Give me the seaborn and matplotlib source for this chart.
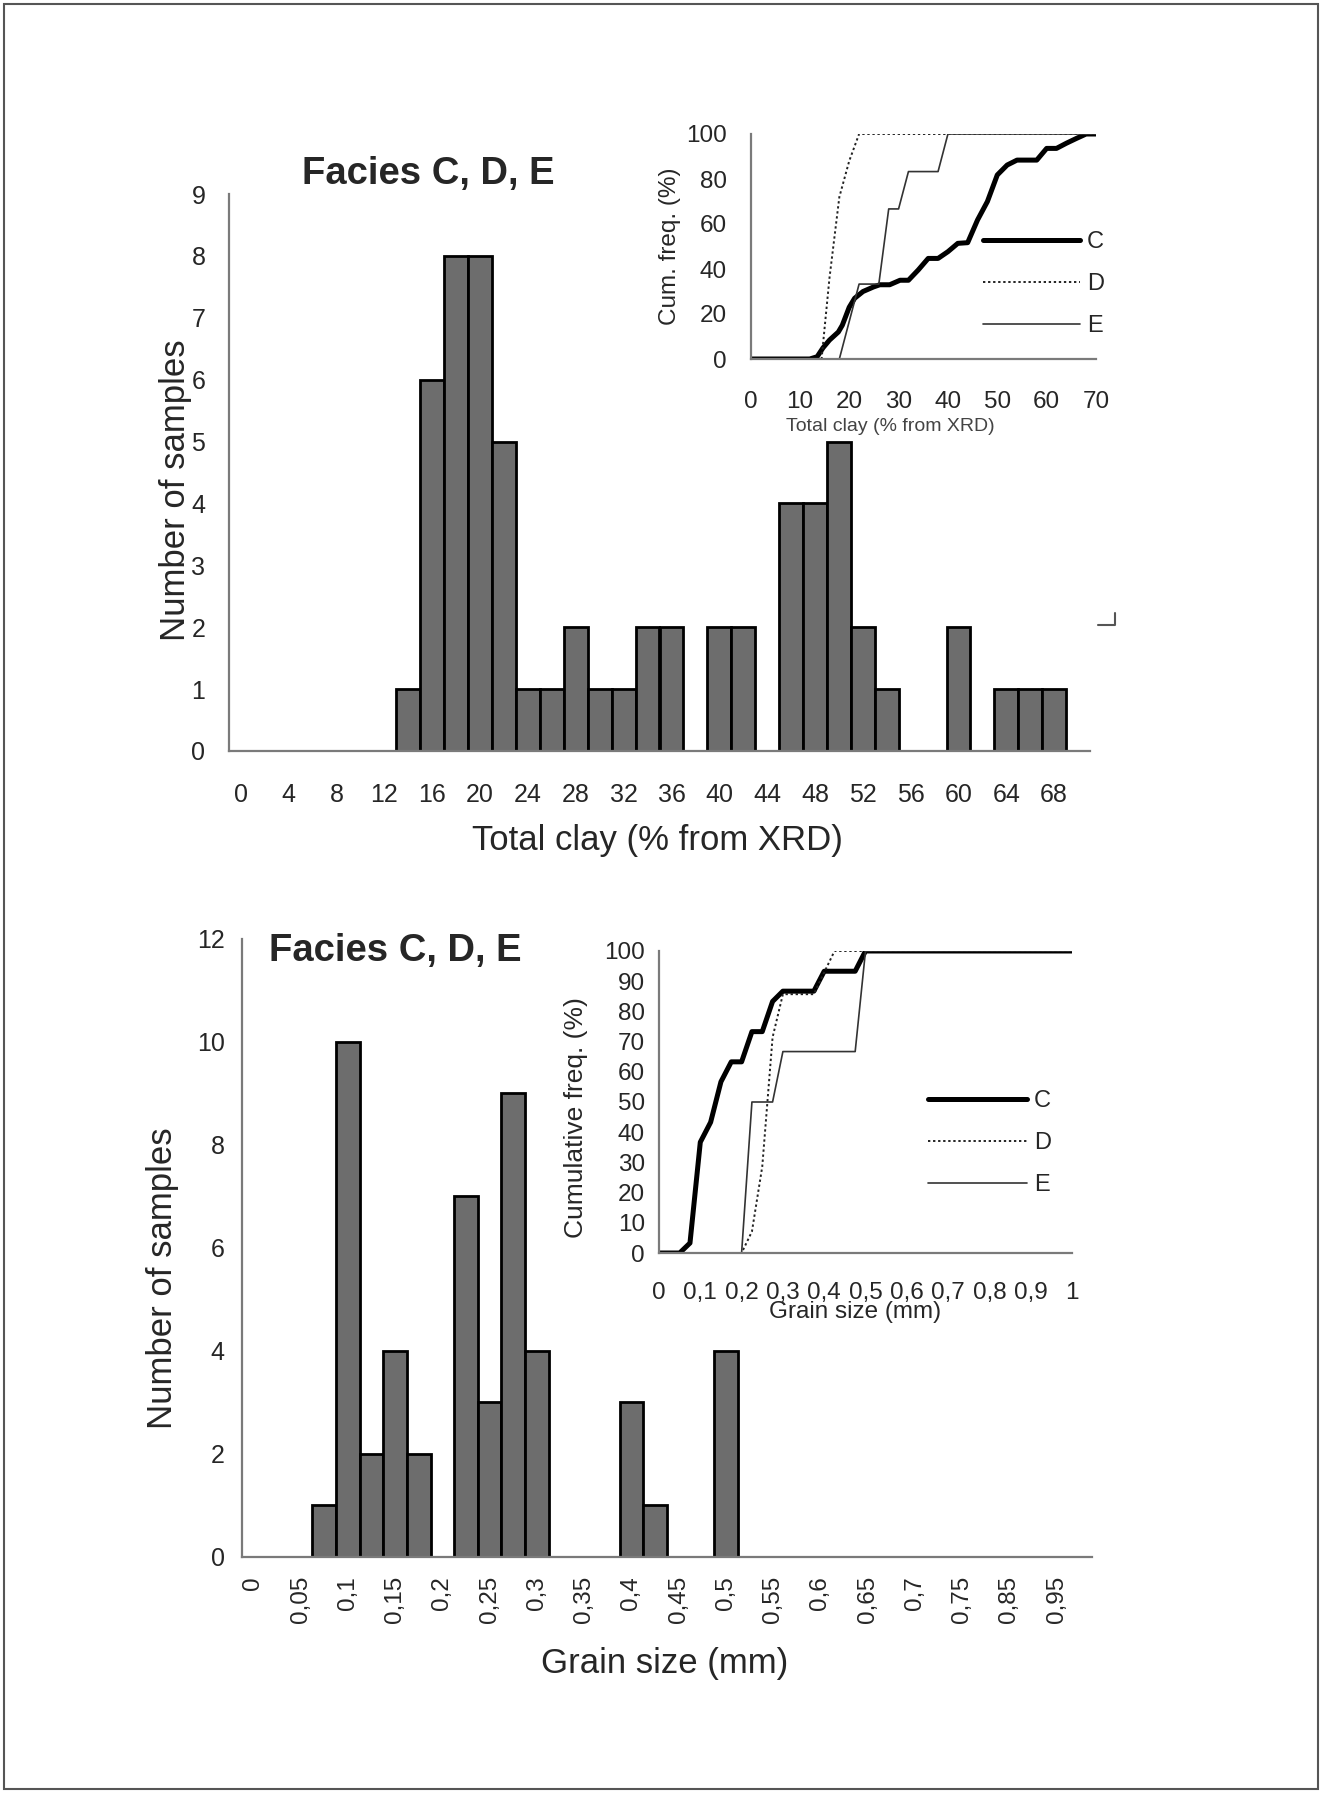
import numpy as np
import pandas as pd
import seaborn as sns
import matplotlib.pyplot as plt
from matplotlib.patches import Rectangle
from matplotlib.lines import Line2D

sns.set_style("white")
plt.rcParams['font.family'] = ['Liberation Sans', 'DejaVu Sans']

# histogram of total clay, bins of 2 %
clay_bins = [0, 2, 4, 6, 8, 10, 12, 14, 16, 18, 20, 22, 24, 26, 28, 30, 32, 34,
             36, 38, 40, 42, 44, 46, 48, 50, 52, 54, 56, 58, 60, 62, 64, 66, 68, 70]
clay_counts = [0, 0, 0, 0, 0, 0, 0, 1, 6, 8, 8, 5, 1, 1, 2, 1, 1, 2,
               2, 0, 2, 2, 0, 4, 4, 5, 2, 1, 0, 0, 2, 0, 1, 1, 1, 0]
clay_ticklabels = ["0", "4", "8", "12", "16", "20", "24", "28", "32", "36",
                   "40", "44", "48", "52", "56", "60", "64", "68"]

# histogram of grain size, bins of 0.025 mm
grain_bins = ["0", "0.025", "0.05", "0.075", "0.1", "0.125", "0.15", "0.175", "0.2",
              "0.225", "0.25", "0.275", "0.3", "0.325", "0.35", "0.375", "0.4", "0.425",
              "0.45", "0.475", "0.5", "0.525", "0.55", "0.575", "0.6", "0.625", "0.65",
              "0.675", "0.7", "0.725", "0.75", "0.775", "0.8", "0.825", "0.85", "0.875"]
grain_counts = [0, 0, 0, 1, 10, 2, 4, 2, 0, 7, 3, 9, 4, 0, 0, 0, 3, 1,
                0, 0, 4, 0, 0, 0, 0, 0, 0, 0, 0, 0, 0, 0, 0, 0, 0, 0]
grain_ticklabels = ["0", "0,05", "0,1", "0,15", "0,2", "0,25", "0,3", "0,35", "0,4",
                    "0,45", "0,5", "0,55", "0,6", "0,65", "0,7", "0,75", "0,85", "0,95"]

# cumulative curves, clay inset
clayC_x = [0, 12, 13.5, 14.7, 16, 17.8, 18.6, 20, 21.1, 22.8, 24.9, 26.2, 28.2, 30.3, 32, 34, 36,
           38, 40, 42, 44, 46, 48, 50, 52, 54, 58, 60, 62, 64, 66, 68, 70]
clayC_y = [0, 0, 1, 5, 8.4, 12, 15, 23, 27, 30, 32, 33, 33, 35, 35, 39.6, 44.7,
           44.7, 47.7, 51.4, 51.7, 61.8, 70, 81.8, 86.2, 88.4, 88.4, 93.6, 93.6, 95.9, 98, 100, 100]
clayD_x = [0, 14.4, 16, 18, 20, 22, 70]
clayD_y = [0, 0, 36, 72, 88, 100, 100]
clayE_x = [0, 18, 22, 26, 28, 30, 32, 38, 40, 70]
clayE_y = [0, 0, 33.3, 33.3, 66.7, 66.7, 83.3, 83.3, 100, 100]

# cumulative curves, grain size inset
grainC_x = [0, 0.05, 0.075, 0.1, 0.125, 0.15, 0.175, 0.2, 0.225, 0.25, 0.275, 0.3, 0.375, 0.4, 0.475, 0.5, 1]
grainC_y = [0, 0, 3.3, 36.7, 43.3, 56.7, 63.3, 63.3, 73.3, 73.3, 83.3, 86.7, 86.7, 93.3, 93.3, 100, 100]
grainD_x = [0, 0.2, 0.225, 0.25, 0.275, 0.3, 0.375, 0.4, 0.425, 1]
grainD_y = [0, 0, 7.1, 28.6, 71.4, 85.7, 85.7, 92.9, 100, 100]
grainE_x = [0, 0.2, 0.225, 0.275, 0.3, 0.475, 0.5, 1]
grainE_y = [0, 0, 50, 50, 66.7, 66.7, 100, 100]

W, H = 1322, 1793
fig = plt.figure(figsize=(W / 100, H / 100), dpi=100)
AXC = '#7a7a7a'


def box(l, r, b, t):
    return [l / W, 1 - b / H, (r - l) / W, (b - t) / H]


def style_axes(ax):
    for s in ['top', 'right']:
        ax.spines[s].set_visible(False)
    for s in ['left', 'bottom']:
        ax.spines[s].set_color(AXC)
        ax.spines[s].set_linewidth(1.6)


def histo(ax, bins, counts, ticklabels, ymax, ystep):
    df = pd.DataFrame({'bin': bins, 'n': counts})
    sns.barplot(data=df, x='bin', y='n', order=bins, color='#6d6d6d', saturation=1,
                edgecolor='black', linewidth=2, width=1, ax=ax)
    for p in ax.patches:
        if p.get_height() == 0:
            p.set_visible(False)
    n = len(bins)
    ax.set_xlim(-0.5, n - 0.5)
    ax.set_ylim(0, ymax)
    ax.set_yticks(np.arange(0, ymax + 1, ystep))
    ax.set_xticks(np.arange(-0.5, n, 2))
    ax.set_xticklabels([])
    ax.set_xticks(np.arange(0, n, 2), ticklabels, minor=True)
    ax.tick_params(axis='x', which='major', length=9, width=1.5, color=AXC, direction='out')
    ax.tick_params(axis='y', which='major', length=9, width=1.5, color=AXC, direction='out',
                   labelsize=18)
    style_axes(ax)


# ---- top histogram
ax1 = fig.add_axes(box(229, 1090, 751, 194))
histo(ax1, clay_bins, clay_counts, clay_ticklabels, 9, 1)
ax1.tick_params(axis='x', which='minor', length=0, pad=23, labelsize=18)
ax1.tick_params(axis='y', pad=8)
ax1.set_xlabel("Total clay (% from XRD)", fontsize=25)
ax1.xaxis.set_label_coords(0.498, -0.160)
ax1.xaxis.label.set_va('center')
ax1.set_ylabel("Number of samples", fontsize=25)
ax1.yaxis.set_label_coords(-0.0616, 0.4686)
ax1.yaxis.label.set_va('center')

# ---- bottom histogram
ax2 = fig.add_axes(box(241.5, 1092, 1556.5, 939))
histo(ax2, grain_bins, grain_counts, grain_ticklabels, 12, 2)
ax2.tick_params(axis='x', which='minor', length=0, pad=14, labelsize=17.5, labelrotation=90)
ax2.tick_params(axis='y', pad=3)
ax2.set_xlabel("Grain size (mm)", fontsize=25)
ax2.xaxis.set_label_coords(0.498, -0.1725)
ax2.xaxis.label.set_va('center')
ax2.set_ylabel("Number of samples", fontsize=25)
ax2.yaxis.set_label_coords(-0.0923, 0.451)
ax2.yaxis.label.set_va('center')

fig.text(428 / W, 1 - 174 / H, "Facies C, D, E", fontsize=27.5, fontweight='bold',
         ha='center', va='center')
fig.text(395 / W, 1 - 951 / H, "Facies C, D, E", fontsize=27.5, fontweight='bold',
         ha='center', va='center')


def cumplot(ax, cx, cy, dx, dy, ex, ey):
    ax.patch.set_alpha(0)
    sns.lineplot(x=cx, y=cy, ax=ax, color='black', lw=3.6, estimator=None, label='C')
    sns.lineplot(x=dx, y=dy, ax=ax, color='#222222', lw=1.4, linestyle=(0, (1.2, 1.4)),
                 estimator=None, label='D')
    sns.lineplot(x=ex, y=ey, ax=ax, color='#333333', lw=1.2, estimator=None, label='E')
    style_axes(ax)
    ax.tick_params(length=8, width=1.5, color=AXC, direction='out', labelsize=17.5)


# ---- top inset
ax3 = fig.add_axes(box(750.5, 1096, 359, 134))
cumplot(ax3, clayC_x, clayC_y, clayD_x, clayD_y, clayE_x, clayE_y)
ax3.set_xlim(0, 70)
ax3.set_ylim(0, 100)
ax3.set_xticks(np.arange(0, 71, 10))
ax3.set_yticks(np.arange(0, 101, 20))
ax3.tick_params(axis='x', pad=15)
ax3.tick_params(axis='y', pad=9)
ax3.set_xlabel("Total clay (% from XRD)", fontsize=14, color='#444444')
ax3.xaxis.set_label_coords(0.404, -0.302)
ax3.xaxis.label.set_va('center')
ax3.set_ylabel("Cum. freq. (%)", fontsize=17.5)
ax3.yaxis.set_label_coords(-0.233, 0.502)
ax3.yaxis.label.set_va('center')
ax3.legend(loc='center left', bbox_to_anchor=(0.673, 0.333), frameon=False, fontsize=17,
           handlelength=4.1, handletextpad=0.3, labelspacing=0.85, borderpad=0,
           borderaxespad=0)

# ---- bottom inset
ax4 = fig.add_axes(box(659, 1072, 1253, 951))
cumplot(ax4, grainC_x, grainC_y, grainD_x, grainD_y, grainE_x, grainE_y)
ax4.set_xlim(0, 1)
ax4.set_ylim(0, 100)
ax4.set_xticks(np.arange(0, 1.01, 0.1))
ax4.set_xticklabels(["0", "0,1", "0,2", "0,3", "0,4", "0,5", "0,6", "0,7", "0,8", "0,9", "1"])
ax4.set_yticks(np.arange(0, 101, 10))
ax4.tick_params(axis='x', pad=13)
ax4.tick_params(axis='y', pad=2)
ax4.set_xlabel("Grain size (mm)", fontsize=17.5)
ax4.xaxis.set_label_coords(0.4746, -0.195)
ax4.xaxis.label.set_va('center')
ax4.set_ylabel("Cumulative freq. (%)", fontsize=19)
ax4.yaxis.set_label_coords(-0.2, 0.45)
ax4.yaxis.label.set_va('center')
ax4.legend(loc='center left', bbox_to_anchor=(0.651, 0.364), frameon=False, fontsize=17,
           handlelength=4.2, handletextpad=0.3, labelspacing=0.85, borderpad=0,
           borderaxespad=0)

# page frame and the small corner mark
fig.add_artist(Rectangle((4 / W, 4 / H), 1 - 8 / W, 1 - 8 / H, transform=fig.transFigure,
                         fill=False, edgecolor='#555555', lw=1.5))
fig.add_artist(Line2D([1098 / W, 1115 / W, 1115 / W], [1 - 625 / H, 1 - 625 / H, 1 - 613 / H],
                      transform=fig.transFigure, color='#555555', lw=1.5))

fig.savefig('out.png', dpi=100)
